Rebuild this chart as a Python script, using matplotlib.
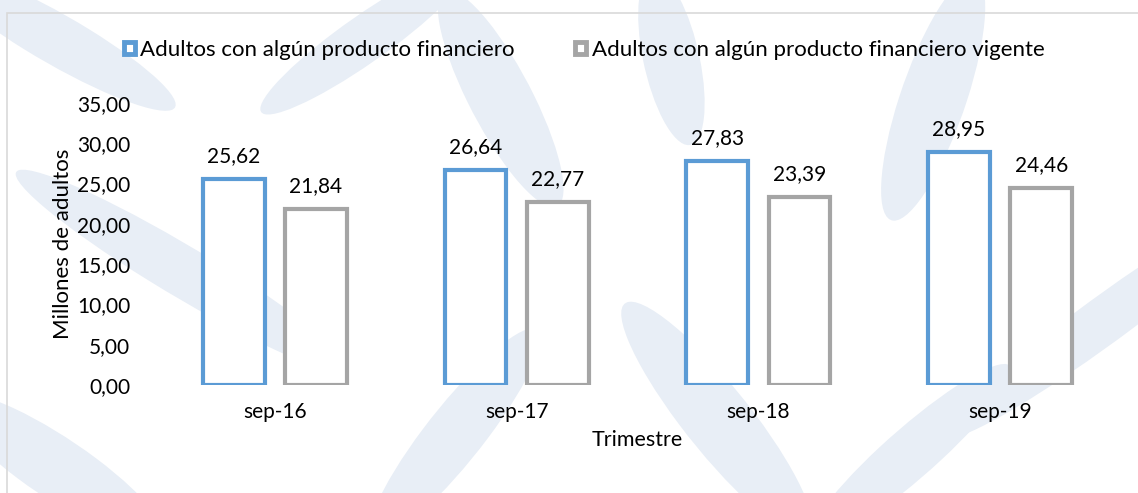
import matplotlib
matplotlib.use("Agg")
import matplotlib.pyplot as plt
import numpy as np
from matplotlib.patches import Ellipse, Patch, Rectangle

plt.rcParams['font.family'] = ['Lato', 'DejaVu Sans']

categories = ["sep-16", "sep-17", "sep-18", "sep-19"]
con_producto = [25.62, 26.64, 27.83, 28.95]
vigente = [21.84, 22.77, 23.39, 24.46]
series_names = ["Adultos con algún producto financiero",
                "Adultos con algún producto financiero vigente"]
yticks = [0, 5, 10, 15, 20, 25, 30, 35]

blue = "#5b9bd5"
gray = "#a5a5a5"
fs = 15

fig = plt.figure(figsize=(11.38, 4.93), dpi=100)

# faint leaf watermark in the background
leaf_color = "#e8eef6"
leaves = [
    (0.05, 0.92, 0.07, 0.35, 35),
    (0.16, 0.45, 0.07, 0.50, 35),
    (0.32, 0.92, 0.06, 0.35, -30),
    (0.44, 0.80, 0.06, 0.45, 12),
    (0.59, 0.88, 0.05, 0.35, 5),
    (0.82, 0.80, 0.06, 0.50, -8),
    (0.97, 0.35, 0.06, 0.55, -30),
    (0.63, 0.15, 0.07, 0.50, 18),
    (0.40, 0.12, 0.06, 0.45, -18),
    (0.05, 0.05, 0.08, 0.35, 30),
    (0.80, 0.08, 0.06, 0.40, -25),
]
for x, y, w, h, ang in leaves:
    fig.patches.append(Ellipse((x, y), w, h, angle=ang, transform=fig.transFigure,
                               facecolor=leaf_color, edgecolor="none", zorder=0))

# chart frame
fig.patches.append(Rectangle((7 / 1138, -0.1), 1.2, 0.1 + 1 - 13 / 493, transform=fig.transFigure,
                             facecolor="none", edgecolor="#d9d9d9", lw=1.2, zorder=1))

ax = fig.add_axes([154 / 1138, 1 - 385 / 493, (1121 - 154) / 1138, (385 - 103) / 493])
ax.patch.set_alpha(0)
ax.set_zorder(3)

x = np.arange(len(categories))
width = 0.255
off = 0.17
ax.bar(x - off, con_producto, width, facecolor="white", edgecolor=blue, linewidth=3)
ax.bar(x + off, vigente, width, facecolor="white", edgecolor=gray, linewidth=3)

for xi, v in zip(x, con_producto):
    ax.text(xi - off, v + 1.6, f"{v:.2f}".replace(".", ","), ha="center", va="bottom", fontsize=fs)
for xi, v in zip(x, vigente):
    ax.text(xi + off, v + 1.6, f"{v:.2f}".replace(".", ","), ha="center", va="bottom", fontsize=fs)

ax.set_xlim(-0.5, 3.5)
ax.set_ylim(0, 35)
ax.set_yticks(yticks)
ax.set_yticklabels([f"{t:.2f}".replace(".", ",") for t in yticks], fontsize=fs)
ax.set_xticks(x)
ax.set_xticklabels(categories, fontsize=fs)
ax.tick_params(length=0, pad=12)
ax.tick_params(axis="y", pad=17)
for s in ax.spines.values():
    s.set_visible(False)

ax.set_xlabel("Trimestre", fontsize=15.5, labelpad=6)
ax.set_ylabel("Millones de adultos", fontsize=16, labelpad=3)

handles = [Patch(facecolor="white", edgecolor=blue, lw=3.5),
           Patch(facecolor="white", edgecolor=gray, lw=3.5)]
leg = fig.legend(handles, series_names, loc="center", bbox_to_anchor=(584 / 1138, 1 - 50 / 493),
                 ncol=2, frameon=False, fontsize=16, handlelength=0.5, handleheight=0.5,
                 handletextpad=0.25, columnspacing=2.7)
leg.set_zorder(3)

fig.savefig("out.png", dpi=100)
